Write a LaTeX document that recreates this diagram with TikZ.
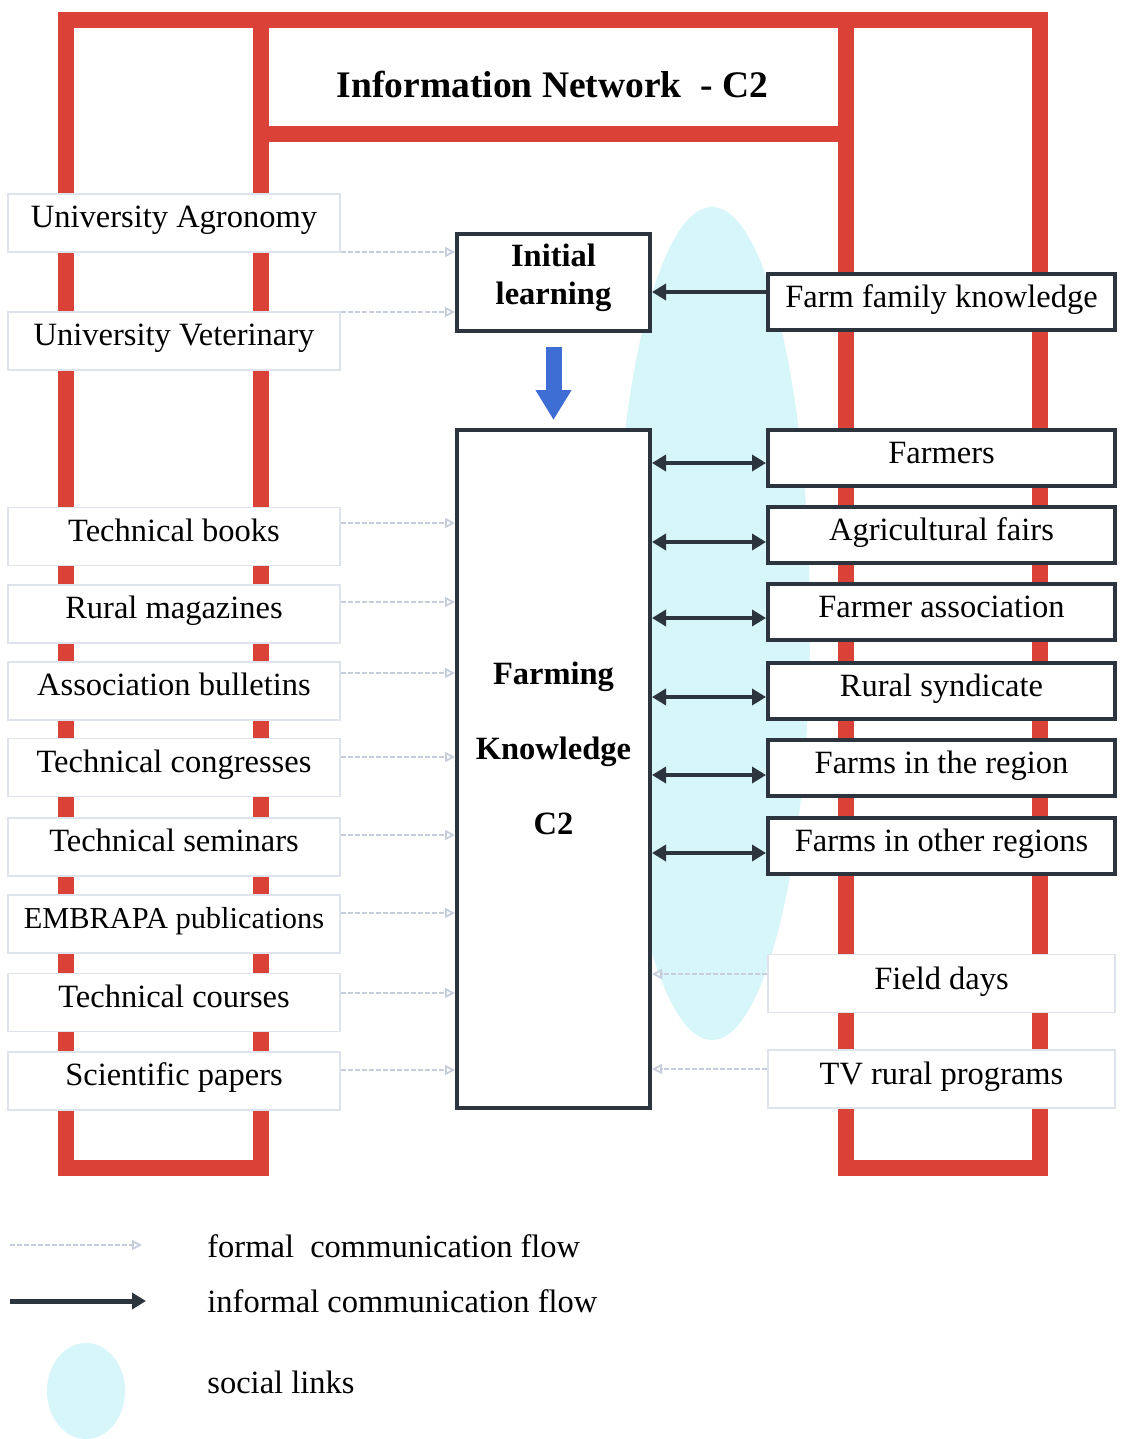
\documentclass[tikz,border=0pt]{standalone}
\usepackage{fontspec}
\setmainfont{Liberation Serif}
\usetikzlibrary{arrows.meta,calc}
\definecolor{netred}{RGB}{218,66,56}
\definecolor{darkline}{RGB}{44,52,62}
\definecolor{paleline}{RGB}{198,206,219}
\definecolor{paleedge}{RGB}{222,227,236}
\definecolor{socialcyan}{RGB}{214,246,250}
\definecolor{flowblue}{RGB}{62,110,212}
\begin{document}
\begin{tikzpicture}[x=0.5pt,y=-0.5pt,
  txt/.style={font=\fontsize{16.25}{19.5}\selectfont},
  network/.style={draw=netred,line width=8pt},
  formalbox/.style={draw=paleedge,line width=0.75pt,fill=white,
    minimum width=166pt,minimum height=29pt,inner xsep=0pt,inner ysep=0pt,
    text height=16.85pt,text depth=12.15pt,txt},
  formalboxr/.style={formalbox,minimum width=173.5pt,
    text height=17.25pt,text depth=11.75pt},
  infbox/.style={draw=darkline,line width=2pt,fill=white,
    minimum width=173.5pt,minimum height=28pt,inner xsep=0pt,inner ysep=0pt,
    text height=16.75pt,text depth=11.25pt,txt},
  corebox/.style={draw=darkline,line width=2pt,fill=white,inner sep=0pt},
  boldtext/.style={font=\bfseries\fontsize{16.25}{19}\selectfont,align=center,inner sep=0pt},
  formal/.style={draw=paleline,line width=0.9pt,dash pattern=on 2.5pt off 1pt,
    arrows={-Triangle[open,length=5pt,width=5pt]}},
  informal/.style={draw=darkline,line width=2pt,
    arrows={-Triangle[length=7pt,width=8pt]}},
  both/.style={informal,arrows={Triangle[length=7pt,width=8pt]-Triangle[length=7pt,width=8pt]}},
  legendtext/.style={txt,anchor=base west,inner sep=0pt}
]
% canvas
\fill[white] (0,0) rectangle (1120,1439);
\useasboundingbox (0,0) rectangle (1120,1439);

% social links area
\fill[socialcyan] (712,623.5) ellipse [x radius=49pt, y radius=208.25pt];

% information network frame
\draw[network,line cap=rect,line join=miter]
  (261,20) -- (261,1168) -- (66,1168) -- (66,20) -- (1040,20)
  -- (1040,1168) -- (846,1168) -- (846,20);
\draw[network] (261,134) -- (846,134);
\node[font=\bfseries\fontsize{18.75}{22}\selectfont,anchor=base,inner sep=0pt]
  (title) at (552.5,98) {Information Network~ - C2};

% formal sources (left)
\node[formalbox] (uagr)   at (174,223)    {University Agronomy};
\node[formalbox] (uvet)   at (174,341)    {University Veterinary};
\node[formalbox] (tbooks) at (174,536.5)  {Technical books};
\node[formalbox] (rmag)   at (174,614)    {Rural magazines};
\node[formalbox] (abull)  at (174,691)    {Association bulletins};
\node[formalbox] (tcong)  at (174,767.5)  {Technical congresses};
\node[formalbox] (tsem)   at (174,847)    {Technical seminars};
\node[formalbox,font=\fontsize{15.2}{18}\selectfont] (embr) at (174,924) {EMBRAPA publications};
\node[formalbox] (tcour)  at (174,1002.5) {Technical courses};
\node[formalbox] (spap)   at (174,1081)   {Scientific papers};

% core boxes
\node[corebox,minimum width=96.5pt,minimum height=48.5pt] (initial) at (553.5,282.5) {};
\node[boldtext] (ilabel) at (553.5,277.5) {Initial\\learning};
\node[corebox,minimum width=96.5pt,minimum height=339pt] (fk) at (553.5,769) {};
\node[boldtext,font=\bfseries\fontsize{16.25}{37.5}\selectfont] (fklabel) at (553.5,748)
  {Farming\\Knowledge\\C2};

% informal sources (right)
\node[infbox] (ffk)     at (941.5,302)   {Farm family knowledge};
\node[infbox] (farmers) at (941.5,457.5) {Farmers};
\node[infbox] (afairs)  at (941.5,535)   {Agricultural fairs};
\node[infbox] (fassoc)  at (941.5,612)   {Farmer association};
\node[infbox] (rsynd)   at (941.5,691)   {Rural syndicate};
\node[infbox] (fregion) at (941.5,768)   {Farms in the region};
\node[infbox] (fother)  at (941.5,845.5) {Farms in other regions};
\node[formalboxr] (fdays) at (941.5,983.5) {Field days};
\node[formalboxr] (tvrp)  at (941.5,1079)  {TV rural programs};

% formal flows into initial learning
\coordinate (uagr-o) at ([yshift=-14.5pt]uagr.east);
\draw[formal] (uagr-o) -- (uagr-o -| initial.west);
\coordinate (uvet-o) at ([yshift=14.5pt]uvet.east);
\draw[formal] (uvet-o) -- (uvet-o -| initial.west);

% formal flows into farming knowledge
\foreach \n/\s in {tbooks/6.75, rmag/6, abull/9, tcong/5.25, tsem/6,
                   embr/5.5, tcour/4.75, spap/5.5} {
  \coordinate (\n-o) at ([yshift=\s pt]\n.east);
  \draw[formal] (\n-o) -- (\n-o -| fk.west);
}
\foreach \n/\s in {fdays/4.75, tvrp/5} {
  \coordinate (\n-o) at ([yshift=\s pt]\n.west);
  \draw[formal] (\n-o) -- (\n-o -| fk.east);
}

% informal flows
\coordinate (ffk-i) at ([yshift=5pt]ffk.west);
\draw[informal] (ffk-i) -- (ffk-i -| initial.east);
\foreach \n/\s in {farmers/2.75, afairs/3.5, fassoc/3, rsynd/3,
                   fregion/3.5, fother/3.75} {
  \coordinate (\n-i) at ([yshift=-\s pt]\n.west);
  \draw[both] (\n-i -| fk.east) -- (\n-i);
}

% initial learning feeds farming knowledge
\draw[flowblue,line width=8pt,-{Triangle[length=15pt,width=17pt]},
  shorten <=7pt,shorten >=4pt] (initial.south) -- (fk.north);

% legend
\coordinate (lfa) at (10,1245);
\coordinate (lfb) at (142,1245);
\draw[formal] (lfa) -- (lfb);
\coordinate (lia) at (10,1301);
\coordinate (lib) at (146,1301);
\draw[informal,line width=2.5pt] (lia) -- (lib);
\fill[socialcyan] (86,1391) ellipse [x radius=19.5pt, y radius=24pt];
\node[legendtext] (lt1) at (207,1257) {formal~ communication flow};
\node[legendtext] (lt2) at (207,1312) {informal communication flow};
\node[legendtext] (lt3) at (207,1393) {social links};
\end{tikzpicture}
\end{document}
